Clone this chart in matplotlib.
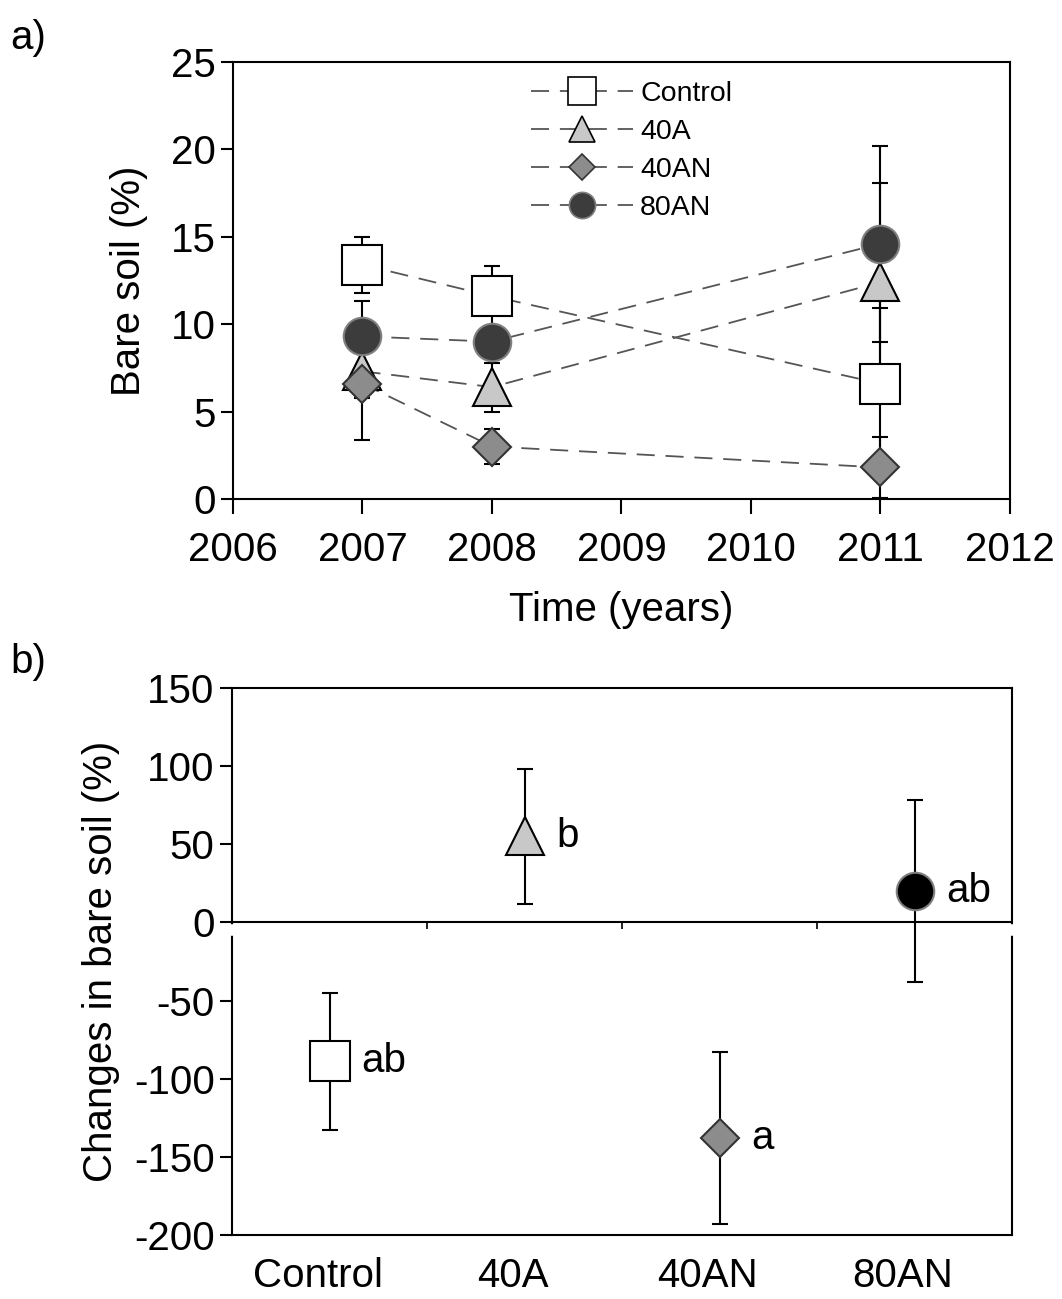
import numpy as np
import matplotlib
matplotlib.use('Agg')
import matplotlib.pyplot as plt

plt.rcParams['font.family'] = ['Liberation Sans', 'DejaVu Sans']
plt.rcParams['axes.unicode_minus'] = False

# panel a: bare soil over time
years = [2007, 2008, 2011]
control = [13.4, 11.6, 6.6]
control_err = [1.6, 1.7, 4.3]
a40 = [7.3, 6.4, 12.4]
a40_err = [1.5, 1.4, 5.7]
an40 = [6.6, 3.0, 1.8]
an40_err = [3.2, 1.0, 1.75]
an80 = [9.3, 9.0, 14.6]
an80_err = [2.0, 0.9, 5.6]

# panel b: change in bare soil
cats = ['Control', '40A', '40AN', '80AN']
changes = [-89, 55, -138, 20]
changes_err = [44, 43, 55, 58]
letters = ['ab', 'b', 'a', 'ab']

fig = plt.figure(figsize=(10.62, 12.99), dpi=100)
ax1 = fig.add_axes([0.2194, 0.6159, 0.7316, 0.3364])
ax2 = fig.add_axes([0.2185, 0.0493, 0.7345, 0.4211])

dash = (0, (10, 6))
styles = [
    ('Control', control, control_err, 's', 'white', 'black', 29),
    ('40A', a40, a40_err, '^', '#c8c8c8', 'black', 27),
    ('40AN', an40, an40_err, 'D', '#8c8c8c', '#333333', 19.5),
    ('80AN', an80, an80_err, 'o', '#3c3c3c', '#808080', 27),
]

for i, (lab, vals, err, mk, fc, ec, ms) in enumerate(styles):
    ax1.errorbar(years, vals, yerr=err, fmt='none', ecolor='black',
                 elinewidth=1.5, capsize=6, capthick=1.5, zorder=2 + i * 0.1)
    ax1.plot(years, vals, linestyle=dash, color='#555555', lw=1.3, zorder=1)
    ax1.plot(years, vals, linestyle='none', marker=mk, ms=ms, mfc=fc,
             mec=ec, mew=1.5, zorder=3 + i * 0.1)
    ax1.plot([], [], linestyle=dash, color='#555555', lw=1.3,
             marker=mk, ms=ms * 0.7, mfc=fc, mec=ec, mew=1.2, label=lab)

ax1.set_xlim(2006, 2012)
ax1.set_ylim(0, 25)
ax1.set_xticks(range(2006, 2013))
ax1.set_yticks(range(0, 26, 5))
ax1.set_xlabel('Time (years)', fontsize=29, labelpad=16)
ax1.set_ylabel('Bare soil (%)', fontsize=29, labelpad=16)
ax1.legend(loc='upper left', bbox_to_anchor=(0.35, 1.015), frameon=False,
           fontsize=20.5, handlelength=3.6, labelspacing=0.42,
           handletextpad=0.25)

# panel b
xpos = np.arange(len(cats)) + 0.5
b_styles = [('s', 'white', 'black', 29), ('^', '#c8c8c8', 'black', 27),
            ('D', '#8c8c8c', '#333333', 19.5), ('o', 'black', '#808080', 27)]
for x, v, e, letter, (mk, fc, ec, ms) in zip(xpos, changes, changes_err,
                                             letters, b_styles):
    ax2.errorbar([x], [v], yerr=[e], fmt='none', ecolor='black',
                 elinewidth=1.5, capsize=6, capthick=1.5, zorder=2)
    ax2.plot([x], [v], linestyle='none', marker=mk, ms=ms, mfc=fc, mec=ec,
             mew=1.5, zorder=3)
    ax2.annotate(letter, (x, v), xytext=(23, 0), textcoords='offset points',
                 fontsize=29, va='center', ha='left')

ax2.axhline(0, color='black', lw=1.5, zorder=1)
ax2.plot([1, 2, 3], [0, 0, 0], linestyle='none', marker=3, ms=5,
         color='black', mew=1.2)
ax2.set_xlim(0, 4)
ax2.set_ylim(-200, 150)
ax2.set_yticks(range(-200, 151, 50))
ax2.set_xticks(xpos - 0.06)
ax2.set_xticklabels(cats)
ax2.tick_params(axis='x', length=0, pad=16)
ax2.set_ylabel('Changes in bare soil (%)', fontsize=29, labelpad=10)
# small break in the side spines just under zero
for xe in (0, 4):
    ax2.plot([xe, xe], [-3, -7], color='white', lw=4, clip_on=False,
             zorder=5)

for ax in (ax1, ax2):
    for sp in ax.spines.values():
        sp.set_linewidth(1.5)
    ax.tick_params(direction='out', labelsize=29, width=1.5)
    ax.tick_params(axis='y', length=9)
ax1.tick_params(axis='x', length=11, pad=12)

fig.text(0.01, 0.985, 'a)', fontsize=29, va='top')
fig.text(0.01, 0.505, 'b)', fontsize=29, va='top')

fig.savefig('out.png', dpi=100)
